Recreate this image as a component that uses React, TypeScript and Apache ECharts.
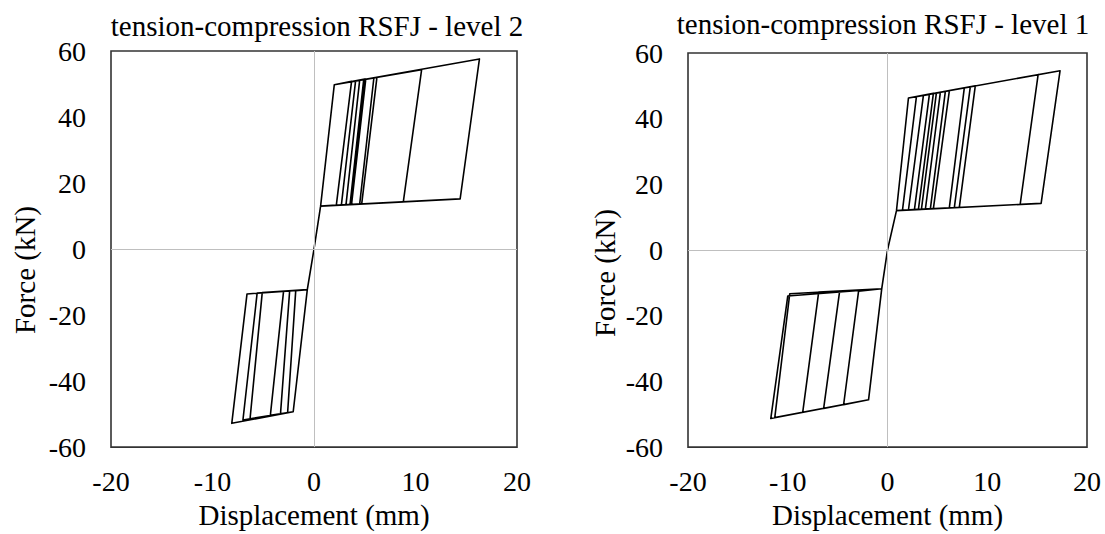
import React, { useEffect, useRef } from "react";
import * as echarts from "echarts";

// ---- text & ticks ----
const panelTitles = ["tension-compression RSFJ - level 2", "tension-compression RSFJ - level 1"];
const xAxisName = "Displacement (mm)";
const yAxisName = "Force (kN)";
const xMin = -20, xMax = 20, xStep = 10;
const yMin = -60, yMax = 60, yStep = 20;

// ---- level 2 (left panel) ----
const l2PosKnee = [2.0, 49.8];
const l2PosReturn = [0.65, 13.0];
const l2NegKnee = [-2.05, -49.3];
const l2NegReturn = [-0.66, -12.3];
const l2PosTopX = [3.7, 4.1, 4.5, 4.9, 5.0, 5.1, 5.9, 6.2, 10.6, 16.3];
const l2PosTopF = [50.8, 51.0, 51.2, 51.4, 51.5, 51.5, 51.9, 52.0, 54.3, 57.6];
const l2PosBotX = [2.2, 2.7, 3.15, 3.55, 3.6, 3.7, 4.5, 4.7, 8.8, 14.4];
const l2PosBotF = [13.3, 13.4, 13.4, 13.5, 13.5, 13.5, 13.6, 13.7, 14.3, 15.2];
const l2NegBotX = [-2.6, -3.3, -4.3, -6.3, -7.0, -8.1];
const l2NegBotF = [-49.6, -49.9, -50.4, -51.4, -51.8, -52.8];
const l2NegTopX = [-1.8, -2.4, -3.0, -5.1, -5.6, -6.6];
const l2NegTopF = [-12.6, -12.7, -12.8, -13.2, -13.3, -13.6];

// ---- level 1 (right panel) ----
const l1PosKnee = [2.1, 46.3];
const l1PosReturn = [0.9, 12.0];
const l1NegKnee = [-1.9, -45.6];
const l1NegReturn = [-0.58, -11.8];
const l1PosTopX = [2.9, 3.6, 4.2, 4.6, 4.9, 5.3, 5.8, 6.2, 7.7, 8.3, 8.8, 15.1, 17.3];
const l1PosTopF = [46.7, 47.1, 47.4, 47.7, 47.8, 48.0, 48.3, 48.5, 49.4, 49.7, 50.0, 53.4, 54.6];
const l1PosBotX = [1.5, 2.1, 2.7, 3.1, 3.4, 3.8, 4.3, 4.6, 6.2, 6.7, 7.2, 13.3, 15.4];
const l1PosBotF = [12.1, 12.2, 12.3, 12.4, 12.4, 12.5, 12.6, 12.6, 12.9, 12.9, 13.0, 13.9, 14.2];
const l1NegBotX = [-4.4, -6.4, -8.5, -11.3, -11.7];
const l1NegBotF = [-47.1, -48.2, -49.4, -51.0, -51.3];
const l1NegTopX = [-2.9, -4.8, -6.9, -9.8, -10.0];
const l1NegTopF = [-12.5, -12.6, -12.8, -13.3, -14.0];

function halfLoops(knee: number[], ret: number[], peakX: number[], peakF: number[], backX: number[], backF: number[]) {
  const pts: number[][] = [];
  for (let i = 0; i < peakX.length; i++) {
    pts.push([0, 0], ret, knee, [peakX[i], peakF[i]], [backX[i], backF[i]], ret);
  }
  pts.push([0, 0]);
  return pts;
}

const level2Path = [
  ...halfLoops(l2PosKnee, l2PosReturn, l2PosTopX, l2PosTopF, l2PosBotX, l2PosBotF),
  ...halfLoops(l2NegKnee, l2NegReturn, l2NegBotX, l2NegBotF, l2NegTopX, l2NegTopF),
];
const level1Path = [
  ...halfLoops(l1PosKnee, l1PosReturn, l1PosTopX, l1PosTopF, l1PosBotX, l1PosBotF),
  ...halfLoops(l1NegKnee, l1NegReturn, l1NegBotX, l1NegBotF, l1NegTopX, l1NegTopF),
];

const FONT = '"Liberation Serif", "Times New Roman", serif';

export default function App() {
  const ref = useRef<HTMLDivElement>(null);
  useEffect(() => {
    if (!ref.current) return;
    const chart = echarts.init(ref.current, undefined, { renderer: "svg" });
    const grids = [
      { left: 111, top: 51, width: 406, height: 401 },
      { left: 688, top: 53, width: 399, height: 399 },
    ];
    const mkX = (i: number) => ({
      gridIndex: i,
      type: "value",
      min: xMin,
      max: xMax,
      interval: xStep,
      axisLine: { show: false },
      axisTick: { show: false },
      splitLine: { show: false },
      axisLabel: { fontFamily: FONT, fontSize: 28, color: "#000", margin: 20 },
      name: xAxisName,
      nameLocation: "middle",
      nameGap: 51,
      nameTextStyle: { fontFamily: FONT, fontSize: 29, color: "#000" },
    });
    const mkY = (i: number) => ({
      gridIndex: i,
      type: "value",
      min: yMin,
      max: yMax,
      interval: yStep,
      axisLine: { show: false },
      axisTick: { show: false },
      splitLine: { show: false },
      axisLabel: { fontFamily: FONT, fontSize: 28, color: "#000", margin: 25 },
    });
    const zeroSeries = (i: number) => ({
      type: "line",
      xAxisIndex: i,
      yAxisIndex: i,
      data: [],
      z: 1,
      silent: true,
      markLine: {
        silent: true,
        symbol: ["none", "none"],
        label: { show: false },
        lineStyle: { color: "#bfbfbf", width: 1, type: "solid" },
        data: [{ xAxis: 0 }, { yAxis: 0 }],
      },
    });
    const dataSeries = (i: number, name: string, path: number[][]) => ({
      type: "line",
      name,
      xAxisIndex: i,
      yAxisIndex: i,
      data: path,
      showSymbol: false,
      symbol: "none",
      z: 3,
      lineStyle: { color: "#000", width: 1.6, join: "round" },
    });
    const txt = (text: string, x: number, y: number, rot = 0) => ({
      type: "text",
      x,
      y,
      rotation: rot,
      style: { text, font: `29px ${FONT}`, fill: "#000", textAlign: "center", textVerticalAlign: "middle" },
    });
    chart.setOption({
      animation: false,
      backgroundColor: "#fff",
      grid: grids.map((g) => ({ ...g, show: true, borderColor: "#333", borderWidth: 1.6, backgroundColor: "transparent" })),
      xAxis: [mkX(0), mkX(1)],
      yAxis: [mkY(0), mkY(1)],
      series: [
        zeroSeries(0),
        zeroSeries(1),
        dataSeries(0, "level 2", level2Path),
        dataSeries(1, "level 1", level1Path),
      ],
      graphic: [
        txt(panelTitles[0], 317, 26),
        txt(panelTitles[1], 883, 24),
        txt(yAxisName, 25, 270, Math.PI / 2),
        txt(yAxisName, 605, 273, Math.PI / 2),
      ],
    });
    return () => chart.dispose();
  }, []);
  return <div ref={ref} style={{ position: "fixed", left: 0, top: 0, width: 1105, height: 534, background: "#fff" }} />;
}
